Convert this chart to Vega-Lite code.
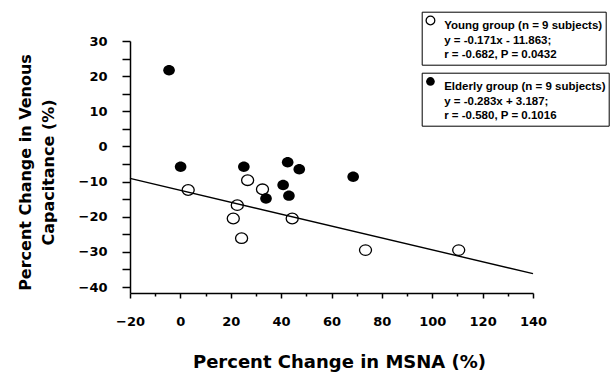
{
  "$schema": "https://vega.github.io/schema/vega-lite/v6.json",
  "width": 403,
  "height": 252,
  "autosize": {"type": "none"},
  "padding": {"left": 130, "top": 41, "right": 81, "bottom": 81},
  "background": "white",
  "config": {
    "view": {"stroke": null},
    "font": "DejaVu Sans",
    "style": {"guide-label": {"lineHeight": 14.5}},
    "axis": {
      "grid": false,
      "domainColor": "black",
      "tickColor": "black",
      "labelColor": "black",
      "titleColor": "black",
      "labelFont": "DejaVu Sans",
      "labelFontWeight": "bold",
      "labelFontSize": 13,
      "labelFlush": false,
      "labelOverlap": false,
      "titleFont": "DejaVu Sans",
      "titleFontWeight": "bold",
      "domainWidth": 1.5,
      "tickWidth": 1.5
    },
    "legend": {
      "orient": "none",
      "title": null,
      "strokeColor": "black",
      "fillColor": "white",
      "padding": 3,
      "labelFont": "Liberation Sans",
      "labelFontWeight": "bold",
      "labelFontSize": 11.5,
      "labelColor": "black",
      "labelOffset": 8,
      "labelLimit": 300,
      "labelBaseline": "top",
      "symbolType": "circle",
      "symbolSize": 75,
      "symbolStrokeWidth": 1.3
    }
  },
  "datasets": {
    "points": [
      {"group": "Elderly", "msna": -4.5, "vc": 21.7},
      {"group": "Elderly", "msna": 0.1, "vc": -5.8},
      {"group": "Elderly", "msna": 25.2, "vc": -5.8},
      {"group": "Elderly", "msna": 42.6, "vc": -4.5},
      {"group": "Elderly", "msna": 47.2, "vc": -6.5},
      {"group": "Elderly", "msna": 40.8, "vc": -11.0},
      {"group": "Elderly", "msna": 43.1, "vc": -14.0},
      {"group": "Elderly", "msna": 34.0, "vc": -14.8},
      {"group": "Elderly", "msna": 68.6, "vc": -8.6},
      {"group": "Young", "msna": 3.1, "vc": -12.4},
      {"group": "Young", "msna": 26.7, "vc": -9.6},
      {"group": "Young", "msna": 32.6, "vc": -12.2},
      {"group": "Young", "msna": 22.6, "vc": -16.7},
      {"group": "Young", "msna": 21.0, "vc": -20.5},
      {"group": "Young", "msna": 24.3, "vc": -26.1},
      {"group": "Young", "msna": 44.4, "vc": -20.5},
      {"group": "Young", "msna": 73.5, "vc": -29.5},
      {"group": "Young", "msna": 110.5, "vc": -29.5}
    ],
    "fit": [
      {"msna": -20, "vc": -9.1},
      {"msna": 140, "vc": -36.2}
    ]
  },
  "layer": [
    {
      "data": {"name": "fit"},
      "mark": {"type": "line", "color": "black", "strokeWidth": 1.4},
      "encoding": {
        "x": {
          "field": "msna",
          "type": "quantitative",
          "scale": {"domain": [-20, 140], "nice": false, "zero": false},
          "axis": {
            "orient": "bottom",
            "values": [-20, 0, 20, 40, 60, 80, 100, 120, 140],
            "tickSize": 5,
            "labelPadding": 17,
            "labelFlush": false,
            "labelOverlap": false,
            "title": "Percent Change in MSNA (%)",
            "titleFontSize": 18,
            "titleX": 209,
            "titleY": 74.3,
            "titleAlign": "center",
            "titleBaseline": "alphabetic"
          }
        },
        "y": {
          "field": "vc",
          "type": "quantitative",
          "scale": {"domain": [-41.7, 30], "nice": false, "zero": false},
          "axis": {
            "orient": "left",
            "values": [-40, -30, -20, -10, 0, 10, 20, 30],
            "labelOverlap": false,
            "labelFlush": false,
            "tickSize": 8,
            "labelPadding": 15,
            "title": ["Percent Change in Venous", "Capacitance (%)"],
            "titleFontSize": 16,
            "titleLineHeight": 23,
            "titleAngle": 270,
            "titleX": -100,
            "titleY": 131,
            "titleAlign": "center",
            "titleBaseline": "alphabetic"
          }
        }
      }
    },
    {
      "data": {"name": "points"},
      "transform": [{"filter": "datum.group === 'Young'"}],
      "mark": {
        "type": "point",
        "shape": "M-1,0A1,0.88 0 1,1 1,0A1,0.88 0 1,1 -1,0Z",
        "filled": false,
        "strokeWidth": 1.3,
        "size": 145,
        "opacity": 1
      },
      "encoding": {
        "x": {
          "field": "msna",
          "type": "quantitative",
          "axis": {
            "orient": "bottom",
            "values": [-10, 10, 30, 50, 70, 90, 110, 130],
            "labels": false,
            "domain": false,
            "tickSize": 3,
            "title": null
          }
        },
        "y": {
          "field": "vc",
          "type": "quantitative",
          "axis": {
            "orient": "left",
            "values": [-35, -25, -15, -5, 5, 15, 25],
            "labels": false,
            "domain": false,
            "tickSize": 8,
            "title": null
          }
        },
        "stroke": {
          "field": "group",
          "type": "nominal",
          "scale": {"domain": ["Young"], "range": ["black"]},
          "legend": {
            "legendX": 291.7,
            "legendY": -29.3,
            "labelExpr": "['Young group (n = 9 subjects)', 'y = -0.171x - 11.863;', 'r = -0.682, P = 0.0432']",
            "encode": {
              "labels": {
                "enter": {"lineHeight": {"value": 14.5}},
                "update": {"lineHeight": {"value": 14.5}, "dy": {"value": -6}}
              },
              "legend": {"update": {"strokeWidth": {"value": 1.2}}}
            }
          }
        }
      }
    },
    {
      "data": {"name": "points"},
      "transform": [{"filter": "datum.group === 'Elderly'"}],
      "mark": {
        "type": "point",
        "shape": "M-1,0A1,0.9 0 1,1 1,0A1,0.9 0 1,1 -1,0Z",
        "filled": true,
        "size": 135,
        "opacity": 1
      },
      "encoding": {
        "x": {"field": "msna", "type": "quantitative", "axis": null},
        "y": {"field": "vc", "type": "quantitative", "axis": null},
        "fill": {
          "field": "group",
          "type": "nominal",
          "scale": {"domain": ["Elderly"], "range": ["black"]},
          "legend": {
            "legendX": 291.7,
            "legendY": 31.7,
            "labelExpr": "['Elderly group (n = 9 subjects)', 'y = -0.283x + 3.187;', 'r = -0.580, P = 0.1016']",
            "encode": {
              "labels": {
                "enter": {"lineHeight": {"value": 14.5}},
                "update": {"lineHeight": {"value": 14.5}, "dy": {"value": -6}}
              },
              "legend": {"update": {"strokeWidth": {"value": 1.6}}}
            }
          }
        }
      }
    }
  ],
  "resolve": {"axis": {"x": "independent", "y": "independent"}}
}
